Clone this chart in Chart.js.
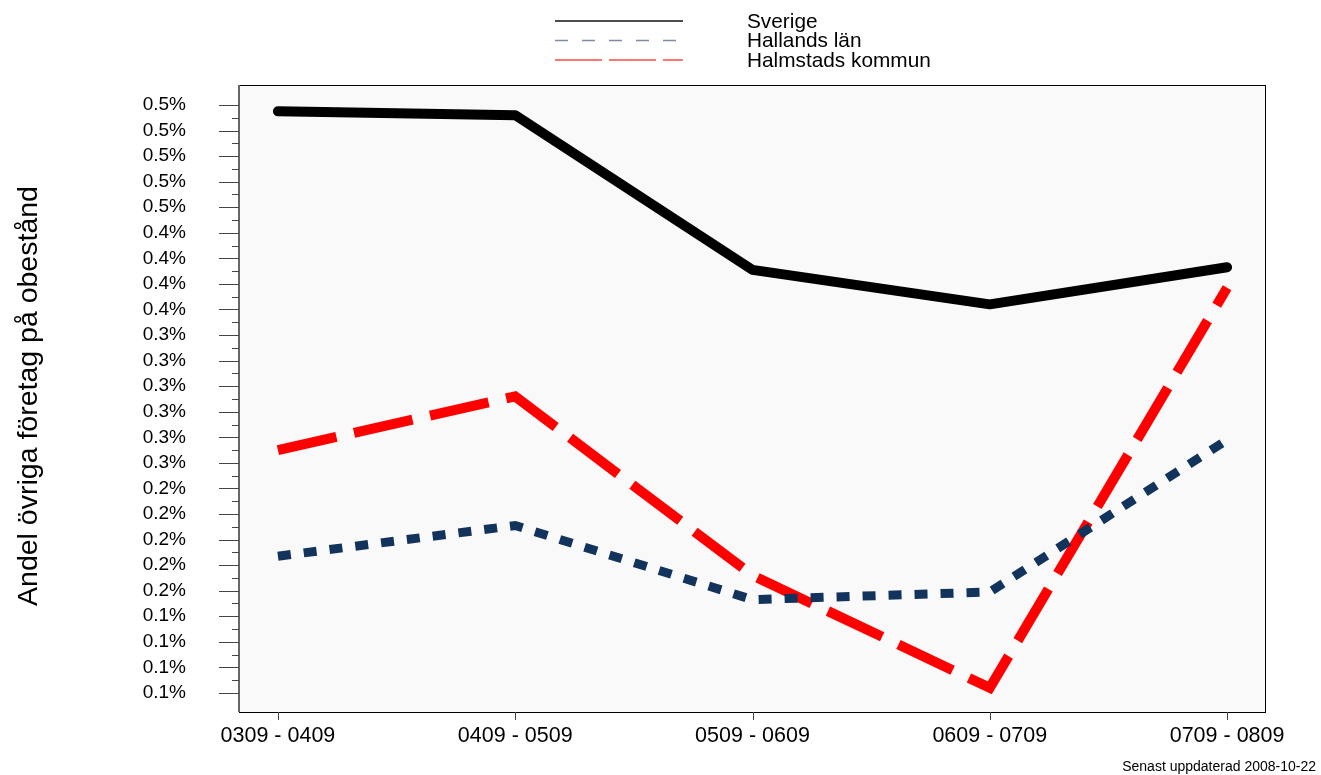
<!DOCTYPE html>
<html lang="sv">
<head>
  <meta charset="UTF-8">
  <title>Andel övriga företag på obestånd</title>
  <script src="https://cdn.jsdelivr.net/npm/chart.js"></script>
  <style>
    body { margin: 0; background: #fff; }
    canvas { display: block; }
  </style>
</head>
<body>
  <canvas id="chart" width="1321" height="775"></canvas>

  <script>
    // perioder på x-axeln
    const periods = ['0309 - 0409', '0409 - 0509', '0509 - 0609', '0609 - 0709', '0709 - 0809'];
    // andel i procent
    const sverige = [0.535, 0.532, 0.411, 0.384, 0.413];
    const hallandsLan = [0.187, 0.211, 0.153, 0.159, 0.278];
    const halmstadsKommun = [0.270, 0.312, 0.172, 0.084, 0.397];
    // y-axelns huvudmarkeringar och deras (avrundade) etiketter
    const yTicks = [0.08, 0.10, 0.12, 0.14, 0.16, 0.18, 0.20, 0.22, 0.24, 0.26, 0.28, 0.30,
                    0.32, 0.34, 0.36, 0.38, 0.40, 0.42, 0.44, 0.46, 0.48, 0.50, 0.52, 0.54];
    const yTickLabels = ['0.1%', '0.1%', '0.1%', '0.1%', '0.2%', '0.2%', '0.2%', '0.2%', '0.2%',
                         '0.3%', '0.3%', '0.3%', '0.3%', '0.3%', '0.3%', '0.4%', '0.4%', '0.4%',
                         '0.4%', '0.5%', '0.5%', '0.5%', '0.5%', '0.5%'];
    const seriesNames = ['Sverige', 'Hallands län', 'Halmstads kommun'];

    const font = '"Liberation Sans", Arial, sans-serif';

    const toPoints = arr => arr.map((v, i) => ({ x: i, y: v }));

    // bakgrund, ram, tickmarkeringar, legend och texter
    const decor = {
      id: 'decor',
      beforeDatasetsDraw(chart) {
        const { ctx, chartArea: a } = chart;
        ctx.save();
        ctx.fillStyle = '#f9f9f9';
        ctx.fillRect(a.left, a.top, a.right - a.left, a.bottom - a.top);
        ctx.restore();
      },
      afterDraw(chart) {
        const { ctx, chartArea: a } = chart;
        const xs = chart.scales.x, ys = chart.scales.y;
        ctx.save();

        // ram
        ctx.strokeStyle = '#000';
        ctx.lineWidth = 1;
        ctx.strokeRect(a.left + 0.5, a.top + 0.5, a.right - a.left - 1, a.bottom - a.top);
        ctx.strokeStyle = '#666';
        ctx.lineWidth = 2;
        ctx.beginPath();
        ctx.moveTo(a.left, a.top);
        ctx.lineTo(a.left, a.bottom);
        ctx.stroke();

        // y-ticks, stora och små (små bara mellan stora)
        ctx.strokeStyle = '#444';
        ctx.lineWidth = 1;
        yTicks.forEach((v, i) => {
          const y = Math.round(ys.getPixelForValue(v)) + 0.5;
          ctx.beginPath();
          ctx.moveTo(a.left - 20, y);
          ctx.lineTo(a.left, y);
          ctx.stroke();
          if (i < yTicks.length - 1) {
            const ym = Math.round(ys.getPixelForValue((v + yTicks[i + 1]) / 2)) + 0.5;
            ctx.beginPath();
            ctx.moveTo(a.left - 7, ym);
            ctx.lineTo(a.left, ym);
            ctx.stroke();
          }
        });
        // x-ticks
        periods.forEach((p, i) => {
          const x = Math.round(xs.getPixelForValue(i)) + 0.5;
          ctx.beginPath();
          ctx.moveTo(x, a.bottom);
          ctx.lineTo(x, a.bottom + 8);
          ctx.stroke();
        });

        // legend
        const legendStyles = [
          { color: '#111111', dash: [] },
          { color: '#7d8ca3', dash: [13, 14] },
          { color: '#ff4a4a', dash: [47, 7] }
        ];
        ctx.font = '20.8px ' + font;
        ctx.textBaseline = 'middle';
        ctx.textAlign = 'left';
        seriesNames.forEach((name, i) => {
          const y = 21 + i * 19.5;
          ctx.strokeStyle = legendStyles[i].color;
          ctx.setLineDash(legendStyles[i].dash);
          ctx.lineWidth = 1.5;
          ctx.beginPath();
          ctx.moveTo(555, y);
          ctx.lineTo(683, y);
          ctx.stroke();
          ctx.setLineDash([]);
          ctx.fillStyle = '#000';
          ctx.fillText(name, 747, y + 1);
        });

        // y-axelns titel
        ctx.save();
        ctx.translate(29, 396);
        ctx.rotate(-Math.PI / 2);
        ctx.textAlign = 'center';
        ctx.textBaseline = 'middle';
        ctx.font = '28.5px ' + font;
        ctx.fillStyle = '#000';
        ctx.fillText('Andel övriga företag på obestånd', 0, 0);
        ctx.restore();

        // uppdateringsdatum
        ctx.font = '14px ' + font;
        ctx.fillStyle = '#000';
        ctx.textAlign = 'right';
        ctx.textBaseline = 'alphabetic';
        ctx.fillText('Senast uppdaterad 2008-10-22', 1316, 771);

        ctx.restore();
      }
    };

    new Chart(document.getElementById('chart'), {
      type: 'line',
      data: {
        datasets: [
          {
            label: seriesNames[0],
            data: toPoints(sverige),
            borderColor: '#000',
            borderWidth: 10,
            borderCapStyle: 'round',
            borderJoinStyle: 'round'
          },
          {
            label: seriesNames[1],
            data: toPoints(hallandsLan),
            borderColor: '#12335b',
            borderWidth: 9,
            borderDash: [13, 13],
            borderCapStyle: 'butt'
          },
          {
            label: seriesNames[2],
            data: toPoints(halmstadsKommun),
            borderColor: '#ff0000',
            borderWidth: 10,
            borderDash: [60, 18],
            borderCapStyle: 'butt'
          }
        ]
      },
      options: {
        responsive: false,
        animation: false,
        elements: { point: { radius: 0 }, line: { tension: 0 } },
        layout: { padding: { top: 85, right: 55, left: 0, bottom: 0 } },
        plugins: { legend: { display: false }, tooltip: { enabled: false } },
        scales: {
          x: {
            type: 'linear',
            min: -0.164,
            max: 4.164,
            afterBuildTicks: s => { s.ticks = periods.map((p, i) => ({ value: i })); },
            afterFit: s => { s.height = 63; },
            grid: { display: true, drawOnChartArea: false, color: 'transparent', tickLength: 8 },
            border: { display: false },
            ticks: {
              autoSkip: false,
              maxRotation: 0,
              padding: 3,
              color: '#000',
              font: { family: font, size: 21.5 },
              callback: v => periods[v]
            }
          },
          y: {
            min: 0.0651,
            max: 0.5556,
            afterBuildTicks: s => { s.ticks = yTicks.map(v => ({ value: v })); },
            afterFit: s => { s.width = 239; },
            grid: { display: true, drawOnChartArea: false, color: 'transparent', tickLength: 20 },
            border: { display: false },
            ticks: {
              autoSkip: false,
              padding: 33,
              color: '#000',
              font: { family: font, size: 19 },
              callback: (v, i) => yTickLabels[i]
            }
          }
        }
      },
      plugins: [decor]
    });
  </script>
</body>
</html>
